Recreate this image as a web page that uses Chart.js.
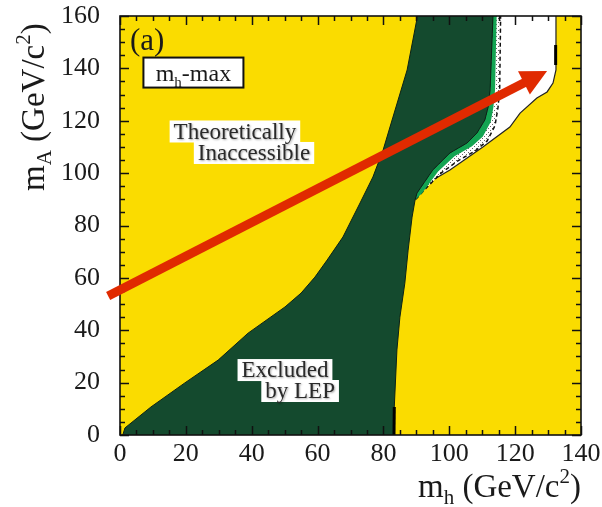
<!DOCTYPE html>
<html>
<head>
<meta charset="utf-8">
<script src="https://cdn.jsdelivr.net/npm/chart.js@4.4.1/dist/chart.umd.min.js"></script>
<style>
  html, body { margin: 0; padding: 0; background: #fff; }
</style>
</head>
<body>
<canvas id="excl" width="602" height="507"></canvas>
<script>
// ---------- DATA (m_h, m_A in GeV/c^2) ----------
const mhTicks = [0, 20, 40, 60, 80, 100, 120, 140];
const maTicks = [0, 20, 40, 60, 80, 100, 120, 140, 160];

// theoretical limit = left edge of the excluded region, bottom to top
const theoryMh = [0.6, 1.5, 9.4, 19.7, 29.8, 38.9, 50.1, 55.0, 59.2, 62.9, 67.7, 72.9, 76.8, 79.9, 82.9, 87.2, 90.5];
const theoryMa = [-1, 2.7, 10.7, 19.9, 28.6, 38.9, 48.9, 54.2, 60.3, 66.8, 75.6, 88.6, 98.5, 108.8, 121.4, 139.4, 161];

// LEP exclusion edge, top to bottom (first 10 points = upper part)
const lepMh = [113.3, 112.4, 111.8, 110.8, 108.4, 105.4, 100.2, 95.0, 90.2, 89.6, 88.7, 87.5, 86.5, 85.0, 84.1, 83.3, 83.2];
const lepMa = [161, 131.7, 125.2, 120.3, 115.3, 111.5, 107.7, 101.2, 92.4, 89.7, 83.2, 70.6, 58.0, 45.0, 32.5, 10.7, -1];

// observed limit band (light green), outer edge, top to corner
const obsMh = [114.4, 113.9, 113.4, 112.6, 110.2, 106.9, 101.6, 96.6, 91.8, 89.6];
const obsMa = [161, 131.7, 125.2, 119.6, 114.0, 110.3, 106.4, 100.6, 92.4, 89.7];

// expected limit band (dotted), outer edge, top to corner
const expMh = [115.6, 115.3, 114.8, 113.9, 111.5, 107.9, 102.6, 97.5, 92.6, 89.6];
const expMa = [161, 131.7, 125.2, 118.2, 112.3, 108.5, 104.7, 100.0, 93.8, 89.7];

// allowed (white) region, right edge, top to corner
const allowMh = [132.4, 132.4, 131.5, 129.7, 126.6, 121.5, 118.4, 110.2, 100.2, 95.0, 91.1, 89.6];
const allowMa = [161, 139.4, 134.4, 131.0, 128.7, 122.9, 117.6, 110.0, 101.2, 97.4, 93.5, 89.7];

// short solid piece of the right-hand limit line
const capMh = [132.3, 132.3];
const capMa = [148.9, 141.3];

// red arrow, tail -> head
const arrowMh = [-3.6, 129.7];
const arrowMa = [53.1, 139.0];

// ---------- STYLE ----------
const SERIF = "'Liberation Serif', 'Times New Roman', Times, serif";
const YELLOW = "#fadc00";
const DARK_GREEN = "#144a2e";
const LIGHT_GREEN = "#13a452";
const RED = "#e02a00";
const INK = "#1a1a1a";

const pts = (xs, ys) => xs.map((x, i) => ({ x: x, y: ys[i] }));
const lepEdge = pts(lepMh, lepMa);
const lepUpper = lepEdge.slice(0, 10);

const excludedShape = pts(theoryMh, theoryMa).concat(lepEdge);
const obsShape = lepUpper.concat(pts(obsMh, obsMa).reverse());
const expShape = lepUpper.concat(pts(expMh, expMa).reverse());
const allowedShape = lepUpper.concat(pts(allowMh, allowMa).reverse());
const lepFoot = lepEdge.slice(-2);

function dotPattern() {
    const c = document.createElement("canvas");
    c.width = 4; c.height = 4;
    const g = c.getContext("2d");
    g.fillStyle = "#fff";
    g.fillRect(0, 0, 4, 4);
    g.fillStyle = "#666";
    g.fillRect(0, 0, 1, 1);
    g.fillRect(2, 2, 1, 1);
    return g.createPattern(c, "repeat");
}

function area(label, data, fillColor, lineColor, lineWidth, order, dash) {
    return {
        label, data, order,
        backgroundColor: fillColor,
        borderColor: lineColor,
        borderWidth: lineWidth,
        borderDash: dash || [],
        fill: fillColor ? "shape" : false,
        pointRadius: 0,
        tension: 0
    };
}

// yellow = theoretically inaccessible, painted as the plot background
const backgroundPlugin = {
    id: "bg",
    beforeDatasetsDraw(chart) {
        const { ctx, chartArea: a } = chart;
        ctx.save();
        ctx.fillStyle = YELLOW;
        ctx.fillRect(a.left, a.top, a.right - a.left, a.bottom - a.top);
        ctx.restore();
    }
};

function drawSubSup(ctx, parts, x, y) {
    // parts: [text, size, dy]
    let cx = x;
    parts.forEach(([t, size, dy]) => {
        ctx.font = size + "px " + SERIF;
        ctx.fillText(t, cx, y + dy);
        cx += ctx.measureText(t).width;
    });
    return cx - x;
}

function measureParts(ctx, parts) {
    let w = 0;
    parts.forEach(([t, size]) => {
        ctx.font = size + "px " + SERIF;
        w += ctx.measureText(t).width;
    });
    return w;
}

const framePlugin = {
    id: "frame",
    afterDatasetsDraw(chart) {
        const { ctx, chartArea: a, scales } = chart;
        const xs = scales.x, ys = scales.y;
        ctx.save();

        // inward ticks on all four sides: major every 20, minor every 5
        ctx.strokeStyle = "#111";
        ctx.lineWidth = 1.5;
        ctx.beginPath();
        for (let v = 0; v <= 140; v += 5) {
            const px = Math.round(xs.getPixelForValue(v)) + 0.5;
            const len = v % 20 === 0 ? 9 : 5;
            ctx.moveTo(px, a.bottom); ctx.lineTo(px, a.bottom - len);
            ctx.moveTo(px, a.top); ctx.lineTo(px, a.top + len);
        }
        for (let v = 0; v <= 160; v += 5) {
            const py = Math.round(ys.getPixelForValue(v)) + 0.5;
            const len = v % 20 === 0 ? 9 : 5;
            ctx.moveTo(a.left, py); ctx.lineTo(a.left + len, py);
            ctx.moveTo(a.right, py); ctx.lineTo(a.right - len, py);
        }
        ctx.stroke();
        ctx.lineWidth = 1.6;
        ctx.strokeRect(a.left, a.top, a.right - a.left, a.bottom - a.top);

        // labels with white boxes
        ctx.textBaseline = "middle";
        ctx.textAlign = "center";
        const notes = [
            { text: "Theoretically", mh: 34.9, ma: 115.9 },
            { text: "Inaccessible", mh: 40.7, ma: 107.7 },
            { text: "Excluded", mh: 50.1, ma: 24.8 },
            { text: "by LEP", mh: 54.7, ma: 16.8 }
        ];
        notes.forEach(n => {
            ctx.font = "23px " + SERIF;
            const w = ctx.measureText(n.text).width;
            const px = xs.getPixelForValue(n.mh), py = ys.getPixelForValue(n.ma);
            ctx.fillStyle = "#fff";
            ctx.fillRect(px - w / 2 - 4, py - 11, w + 8, 22);
        });
        notes.forEach(n => {
            ctx.font = "23px " + SERIF;
            const px = xs.getPixelForValue(n.mh), py = ys.getPixelForValue(n.ma);
            ctx.shadowColor = "rgba(0,0,0,0.35)";
            ctx.shadowBlur = 2;
            ctx.shadowOffsetX = 1;
            ctx.shadowOffsetY = 1;
            ctx.fillStyle = "#2a2a2a";
            ctx.fillText(n.text, px, py + 1);
        });
        ctx.shadowColor = "transparent";

        // scenario box
        const scen = [["m", 24, 0], ["h", 15, 6], ["-max", 24, 0]];
        const sx = xs.getPixelForValue(22.3), sy = ys.getPixelForValue(138.4);
        const sw = measureParts(ctx, scen);
        ctx.fillStyle = "#fff";
        ctx.fillRect(sx - 50, sy - 15, 100, 30);
        ctx.lineWidth = 2;
        ctx.strokeStyle = "#111";
        ctx.strokeRect(sx - 50, sy - 15, 100, 30);
        ctx.fillStyle = INK;
        ctx.textAlign = "left";
        ctx.textBaseline = "alphabetic";
        drawSubSup(ctx, scen, sx - sw / 2, sy + 8);

        // panel tag
        ctx.font = "31px " + SERIF;
        ctx.fillText("(a)", xs.getPixelForValue(3.0), ys.getPixelForValue(150.8) + 10);

        // arrow
        const x0 = xs.getPixelForValue(arrowMh[0]), y0 = ys.getPixelForValue(arrowMa[0]);
        const x1 = xs.getPixelForValue(arrowMh[1]), y1 = ys.getPixelForValue(arrowMa[1]);
        const len = Math.hypot(x1 - x0, y1 - y0);
        const ux = (x1 - x0) / len, uy = (y1 - y0) / len;
        const headLen = 26, headHalf = 13;
        const bx = x1 - ux * headLen, by = y1 - uy * headLen;
        ctx.strokeStyle = RED;
        ctx.lineWidth = 9;
        ctx.lineCap = "butt";
        ctx.beginPath();
        ctx.moveTo(x0, y0);
        ctx.lineTo(bx + ux * 2, by + uy * 2);
        ctx.stroke();
        ctx.fillStyle = RED;
        ctx.beginPath();
        ctx.moveTo(x1, y1);
        ctx.lineTo(bx - uy * headHalf, by + ux * headHalf);
        ctx.lineTo(bx + uy * headHalf, by - ux * headHalf);
        ctx.closePath();
        ctx.fill();

        ctx.restore();
    }
};

// axis titles with sub/superscripts
const titlePlugin = {
    id: "titles",
    afterDraw(chart) {
        const { ctx, chartArea: a } = chart;
        ctx.save();
        ctx.fillStyle = INK;
        ctx.textAlign = "left";
        ctx.textBaseline = "alphabetic";

        const xt = [["m", 33, 0], ["h", 21, 7], [" (GeV/c", 33, 0], ["2", 21, -14], [")", 33, 0]];
        const xw = measureParts(ctx, xt);
        drawSubSup(ctx, xt, a.right - xw, 497);

        const yt = [["m", 33, 0], ["A", 21, 7], [" (GeV/c", 33, 0], ["2", 21, -14], [")", 33, 0]];
        ctx.translate(44, 191);
        ctx.rotate(-Math.PI / 2);
        drawSubSup(ctx, yt, 0, 0);
        ctx.restore();
    }
};

new Chart(document.getElementById("excl"), {
    type: "line",
    data: {
        datasets: [
            area("Excluded by LEP", excludedShape, DARK_GREEN, "#0b2216", 1, 1),
            area("Observed", obsShape, LIGHT_GREEN, LIGHT_GREEN, 0, 2),
            area("Expected", expShape, dotPattern(), "#111", 1.5, 3, [4, 3]),
            area("Allowed", allowedShape, "#fff", "#222", 1.2, 4),
            area("Edge", lepFoot, null, "#000", 3, 0),
            area("Cap", pts(capMh, capMa), null, "#000", 3, 0)
        ]
    },
    options: {
        responsive: false,
        animation: false,
        events: [],
        layout: { padding: { top: 16, right: 21, left: 0, bottom: 0 } },
        scales: {
            x: {
                type: "linear",
                min: 0, max: 140,
                afterFit: s => { s.height = 72; s.paddingLeft = 0; s.paddingRight = 0; },
                afterBuildTicks: s => { s.ticks = mhTicks.map(v => ({ value: v })); },
                grid: { display: false, drawTicks: false },
                border: { display: false },
                ticks: { padding: 4, color: INK, font: { family: SERIF, size: 26 } }
            },
            y: {
                type: "linear",
                min: 0, max: 160,
                afterFit: s => { s.width = 120; s.paddingTop = 0; s.paddingBottom = 0; },
                afterBuildTicks: s => { s.ticks = maTicks.map(v => ({ value: v })); },
                grid: { display: false, drawTicks: false },
                border: { display: false },
                ticks: { padding: 20, color: INK, font: { family: SERIF, size: 26 } }
            }
        },
        plugins: {
            legend: { display: false },
            tooltip: { enabled: false },
            filler: { propagate: false }
        }
    },
    plugins: [backgroundPlugin, framePlugin, titlePlugin]
});
</script>
</body>
</html>
